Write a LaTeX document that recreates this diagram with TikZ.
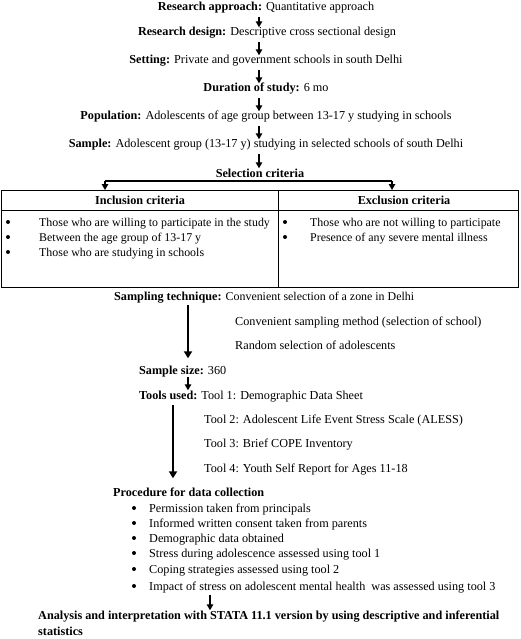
\documentclass[tikz,border=0pt]{standalone}
\usepackage{fontspec}
\setmainfont{Liberation Serif}
\usetikzlibrary{arrows.meta}
\begin{document}
\begin{tikzpicture}[x=1pt,y=-1pt,
  txt/.style={inner sep=0pt, text height=8.5pt, text depth=2.5pt, font=\fontsize{12.2}{14}\selectfont},
  lt/.style={txt, anchor=west},
  tt/.style={lt, font=\fontsize{11.9}{14}\selectfont},
  bul/.style={circle, fill=black, inner sep=0pt, minimum size=4pt},
  arr/.style={line width=1.3pt, -{Triangle[length=6pt,width=6.5pt]}},
  bigarr/.style={line width=2.4pt, -{Triangle[length=7pt,width=8pt]}},
  thk/.style={line width=2.2pt},
  frame/.style={line width=0.8pt}]
\useasboundingbox (0,0) rectangle (520,639);
% top chain
\coordinate (ax) at (259,0);
\node[txt] (ra) at (266,8) {\textbf{Research approach:} Quantitative approach};
\node[txt] (rd) at (267,33) {\textbf{Research design:} Descriptive cross sectional design};
\node[txt] (se) at (266,61) {\textbf{Setting:} Private and government schools in south Delhi};
\node[txt] (du) at (266,89) {\textbf{Duration of study:} 6 mo};
\node[txt] (po) at (266,117) {\textbf{Population:} Adolescents of age group between 13-17 y studying in schools};
\node[txt] (sa) at (266,145) {\textbf{Sample:} Adolescent group (13-17 y) studying in selected schools of south Delhi};
\node[txt] (sc) at (260,174) {\textbf{Selection criteria}};
\foreach \a/\b in {ra/rd,rd/se,se/du,du/po,po/sa,sa/sc}
  \draw[arr, shorten <=3pt] (\a.south -| ax) -- (\b.north -| ax);
% criteria table
\coordinate (tl) at (1,190);
\coordinate (br) at (518,287);
\coordinate (mid) at (278,190);
\draw[frame] (tl) rectangle (br);
\draw[frame] (1,210) -- (518,210);
\draw[frame] (mid) -- (mid |- br);
\coordinate (cl) at (105,181);
\coordinate (cr) at (392,181);
\draw[thk] (cl) -- (cr);
\draw[arr] (cl) -- (cl |- tl);
\draw[arr] (cr) -- (cr |- tl);
\node[txt] (inc) at (140,201) {\textbf{Inclusion criteria}};
\node[txt] (exc) at (404,201) {\textbf{Exclusion criteria}};
\node[bul] (ib1) at (8,222) {};
\node[tt] (it1) at (39,223) {Those who are willing to participate in the study};
\node[bul] (ib2) at (8,237) {};
\node[tt] (it2) at (39,238) {Between the age group of 13-17 y};
\node[bul] (ib3) at (8,252) {};
\node[tt] (it3) at (39,253) {Those who are studying in schools};
\node[bul] (eb1) at (285,222) {};
\node[tt] (et1) at (310,223) {Those who are not willing to participate};
\node[bul] (eb2) at (285,237) {};
\node[tt] (et2) at (310,238) {Presence of any severe mental illness};
% sampling
\coordinate (ax2) at (188,0);
\node[lt] (st) at (114,297) {\textbf{Sampling technique:} {\fontsize{11.9}{13}\selectfont Convenient selection of a zone in Delhi}};
\node[lt] (st2) at (235,322) {Convenient sampling method (selection of school)};
\node[lt] (st3) at (235,346) {Random selection of adolescents};
\node[lt] (ss) at (139,371) {\textbf{Sample size:} 360};
\draw[bigarr, shorten <=2pt, shorten >=7pt] (st.south -| ax2) -- (ss.north -| ax2);
\node[lt] (tu) at (139,396) {\textbf{Tools used:} Tool 1: Demographic Data Sheet};
\draw[arr] (ss.south -| ax2) -- (tu.north -| ax2);
\node[lt] (t2) at (204,420) {Tool 2: Adolescent Life Event Stress Scale (ALESS)};
\node[lt] (t3) at (204,444) {Tool 3: Brief COPE Inventory};
\node[lt] (t4) at (204,469) {Tool 4: Youth Self Report for Ages 11-18};
% procedure
\coordinate (ax3) at (173,0);
\node[lt] (pr) at (113,493) {\textbf{Procedure for data collection}};
\draw[bigarr, shorten <=3pt, shorten >=9pt] (tu.south -| ax3) -- (pr.north -| ax3);
\foreach \n/\y/\t in {1/509/Permission taken from principals,
                      2/524/Informed written consent taken from parents,
                      3/539/Demographic data obtained,
                      4/554/Stress during adolescence assessed using tool 1,
                      5/570/Coping strategies assessed using tool 2,
                      6/587/Impact of stress on adolescent mental health\ \ was assessed using tool 3}{
  \node[bul] (pb\n) at (134,\y-1) {};
  \node[lt] (pt\n) at (149,\y) {\t};
}
\coordinate (ax4) at (210,0);
\node[lt] (an) at (38,616) {\textbf{Analysis and interpretation with STATA 11.1 version by using descriptive and inferential}};
\node[lt] (an2) at (38,632) {\textbf{statistics}};
\draw[arr, shorten <=2pt] (pt6.south -| ax4) -- (an.north -| ax4);
\end{tikzpicture}
\end{document}
